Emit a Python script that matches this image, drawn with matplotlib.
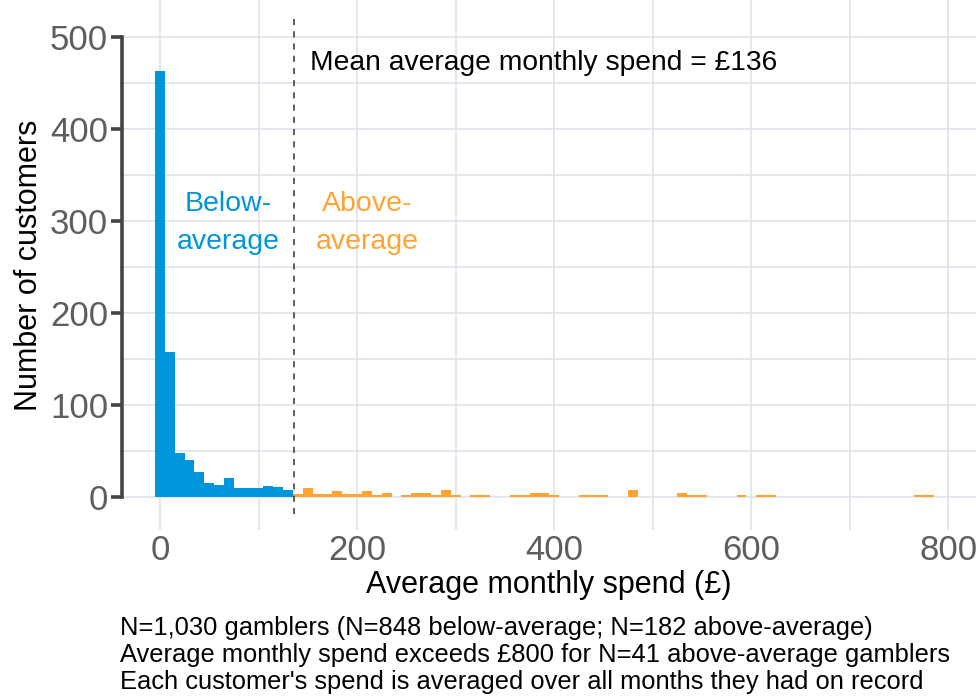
import matplotlib
matplotlib.use("Agg")
import matplotlib.pyplot as plt
from matplotlib.ticker import MultipleLocator

# ---- data ----
below_centers = [0, 10, 20, 30, 40, 50, 60, 70, 80, 90, 100, 110, 120, 130]
below_counts = [463, 157, 48, 40, 27, 15, 13, 20, 10, 10, 10, 12, 11, 8]

above_centers = [140, 150, 160, 170, 180, 190, 200, 210, 220, 230, 250, 260, 270,
                 280, 290, 300, 320, 330, 360, 370, 380, 390, 400, 430, 440, 450,
                 480, 530, 540, 550, 590, 610, 620, 770, 780]
above_counts = [3, 10, 3, 3, 6, 3, 3, 6, 2, 4, 2, 4, 4,
                2, 7, 2, 2, 2, 2, 2, 4, 4, 2, 2, 2, 2,
                7, 4, 2, 2, 2, 2, 2, 2, 2]

mean_spend = 136
binwidth = 10
x_ticks = [0, 200, 400, 600, 800]
y_ticks = [0, 100, 200, 300, 400, 500]

caption_lines = [
    "N=1,030 gamblers (N=848 below-average; N=182 above-average)",
    "Average monthly spend exceeds £800 for N=41 above-average gamblers",
    "Each customer's spend is averaged over all months they had on record",
]

blue = "#0096DB"
orange = "#FFA333"
grid_col = "#DDE3EA"
tick_col = "#5E5E5E"

plt.rcParams['font.family'] = ['Liberation Sans', 'DejaVu Sans']

W, H = 976, 696
fig = plt.figure(figsize=(W / 100, H / 100), dpi=100)
left_px, bottom_px = 122, 530
ax = fig.add_axes([left_px / W, (H - bottom_px) / H, 1 - left_px / W, bottom_px / H])

ax.set_xlim(-38.5, 828)
ax.set_ylim(-36, 540)

# grid
ax.xaxis.set_major_locator(MultipleLocator(200))
ax.xaxis.set_minor_locator(MultipleLocator(100))
ax.yaxis.set_major_locator(MultipleLocator(100))
ax.yaxis.set_minor_locator(MultipleLocator(50))
ax.grid(True, which='both', color=grid_col, linewidth=1.2, zorder=0)
ax.set_axisbelow(True)

ax.bar(below_centers, below_counts, width=binwidth, color=blue, linewidth=0, zorder=2)
ax.bar(above_centers, above_counts, width=binwidth, color=orange, linewidth=0, zorder=2)

ax.axvline(mean_spend, ymin=0.03, ymax=0.97, color="#333333", linestyle=(0, (4, 4)),
           linewidth=1.1, zorder=3)

# spines
for s in ['top', 'right', 'bottom']:
    ax.spines[s].set_visible(False)
ax.spines['left'].set_bounds(0, 500)
ax.spines['left'].set_linewidth(2.6)
ax.spines['left'].set_color("#444444")

ax.set_yticks(y_ticks)
ax.set_xticks(x_ticks)
ax.tick_params(axis='y', which='major', length=8, width=2.6, color="#444444",
               labelsize=25, labelcolor=tick_col, pad=2)
ax.tick_params(axis='y', which='minor', length=0)
ax.tick_params(axis='x', which='both', length=0, labelsize=25, labelcolor=tick_col, pad=3)

ax.set_xlabel("Average monthly spend (£)", fontsize=22, color="black", labelpad=2)
ax.set_ylabel("Number of customers", fontsize=22, color="black", labelpad=4)

ax.text(mean_spend + 16, 472, "Mean average monthly spend = £" + str(mean_spend),
        fontsize=20.3, color="black", ha='left', va='center')
ax.text(69, 298, "Below-\naverage", fontsize=20.5, color=blue, ha='center', va='center',
        linespacing=1.6)
ax.text(210, 298, "Above-\naverage", fontsize=20.5, color=orange, ha='center', va='center',
        linespacing=1.6)

for i, line in enumerate(caption_lines):
    fig.text(120 / W, 1 - (628 + 27 * i) / H, line, fontsize=18.4,
             color="black", ha='left', va='center')

fig.savefig("out.png", dpi=100)
